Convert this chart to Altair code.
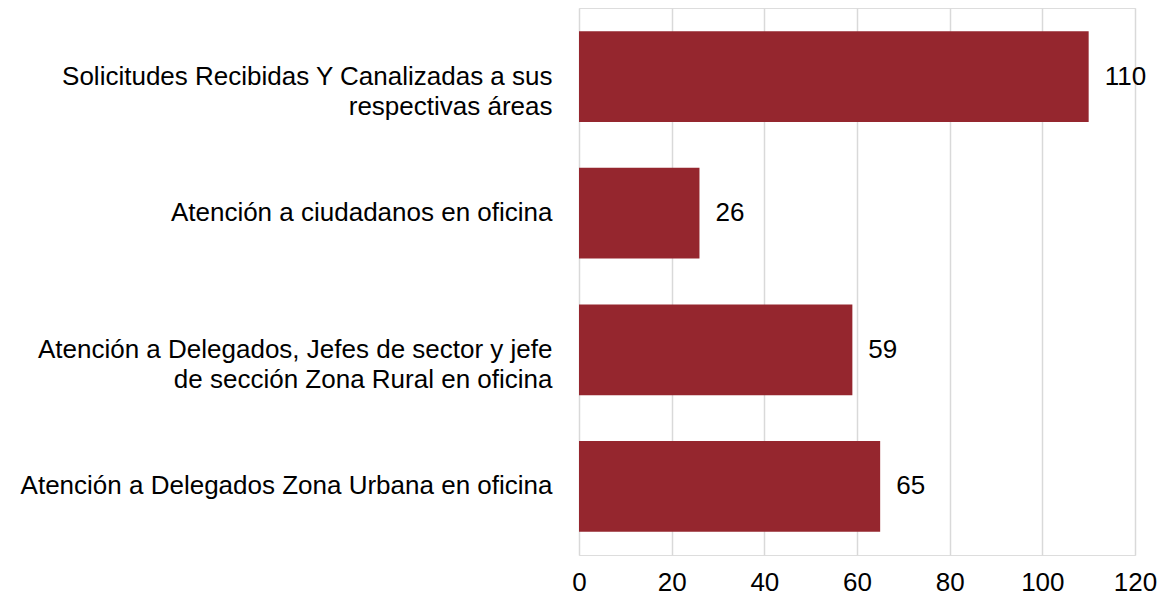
import altair as alt
import pandas as pd

categories = [
    "Solicitudes Recibidas Y Canalizadas a sus\nrespectivas áreas",
    "Atención a ciudadanos en oficina",
    "Atención a Delegados, Jefes de sector y jefe\nde sección Zona Rural en oficina",
    "Atención a Delegados Zona Urbana en oficina",
]
values = [110, 26, 59, 65]
x_ticks = [0, 20, 40, 60, 80, 100, 120]

df = pd.DataFrame({"cat": categories, "val": values})

FONT = "Liberation Sans"
BAR = "#95262E"

base = alt.Chart(df).encode(
    y=alt.Y(
        "cat:N",
        sort=None,
        title=None,
        scale=alt.Scale(paddingInner=0.335, paddingOuter=0.17),
        axis=alt.Axis(
            domain=False,
            ticks=False,
            grid=False,
            labelFont=FONT,
            labelFontSize=26,
            labelColor="#000000",
            labelPadding=27,
            labelLimit=700,
            labelLineHeight=30,
            labelExpr=r"split(datum.label, '\n')",
        ),
    ),
    x=alt.X(
        "val:Q",
        title=None,
        scale=alt.Scale(domain=[0, 120], nice=False),
        axis=alt.Axis(
            values=x_ticks,
            domain=False,
            ticks=False,
            grid=True,
            gridColor="#D9D9D9",
            gridWidth=1.5,
            labelFont=FONT,
            labelFontSize=26,
            labelColor="#000000",
            labelPadding=14,
            labelFlush=False,
        ),
    ),
)

bars = base.mark_bar(color=BAR)
labels = base.mark_text(
    align="left", baseline="middle", dx=16, font=FONT, fontSize=26, color="#000000"
).encode(text="val:Q")

chart = (
    (bars + labels)
    .properties(
        width=556,
        height=547,
        autosize=alt.AutoSizeParams(type="none"),
        padding={"left": 571, "top": 0, "right": 24, "bottom": 42},
    )
    .configure_view(stroke=None)
    .configure(background="#FFFFFF")
)

chart.save("out.html", embed_options={"renderer": "svg", "actions": False})
